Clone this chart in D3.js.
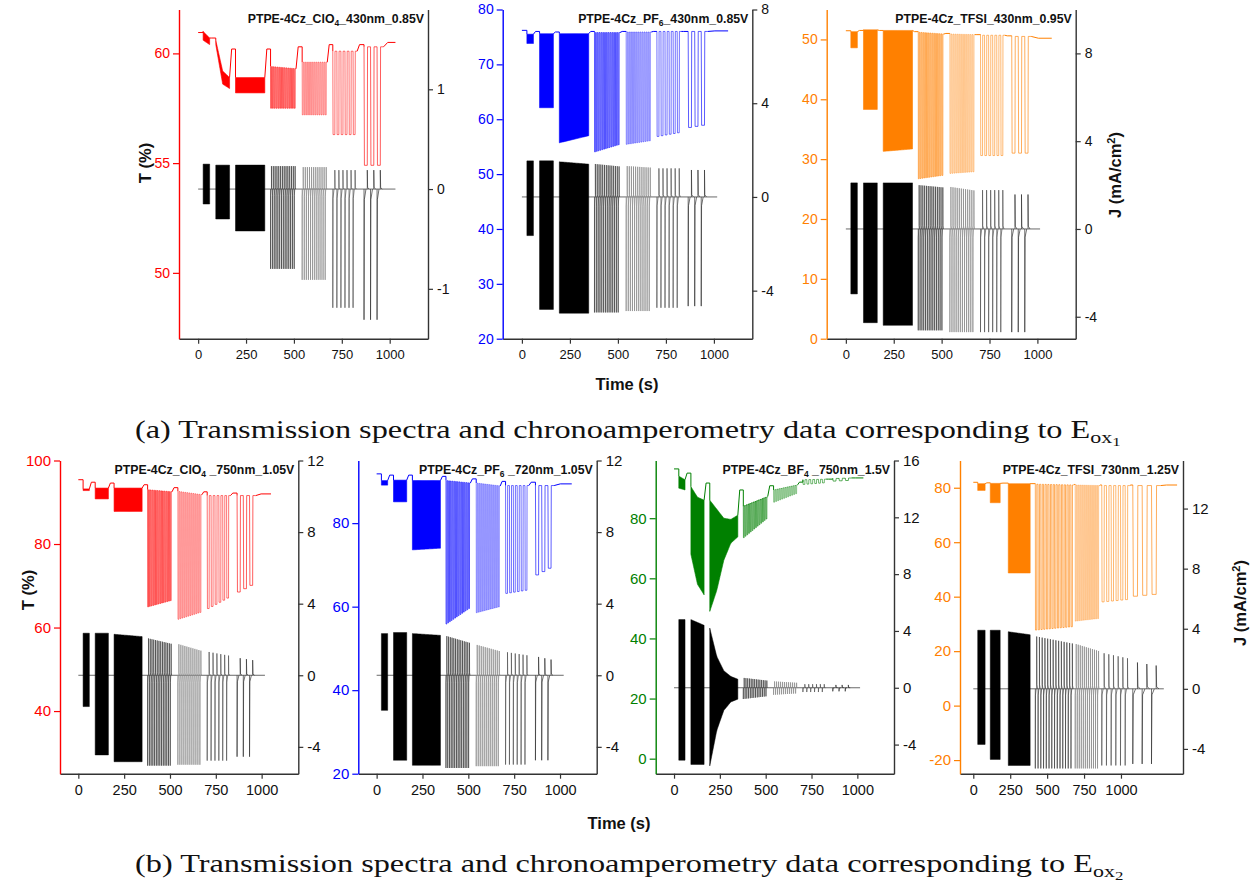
<!DOCTYPE html>
<html>
<head>
<meta charset="utf-8">
<script src="https://cdn.jsdelivr.net/npm/d3@7"></script>
<style>
  body { margin: 0; background: #fff; }
  svg { display: block; font-family: "Liberation Sans", Arial, sans-serif; }
</style>
</head>
<body>
<svg id="fig" width="1255" height="886"></svg>
<script>
// switching protocol (s): the same for most runs
var blockStart = [26, 92, 195, 378, 543, 703, 866];
var blockEnd = [60, 164, 348, 511, 674, 830, 968];
var blockPulses = [0, 0, 0, 14, 12, 6, 3];   // 0 = dense switching, drawn as a band
// the TFSI 730 nm run was recorded on a longer time base
var tfsibStart = [30, 115, 237, 420, 690, 870, 1080];
var tfsibEnd = [80, 182, 385, 680, 855, 1060, 1270];

var xMajor = [0, 250, 500, 750, 1000];
var xMinor = [125, 375, 625, 875, 1125, 1375];

// T (%) envelopes per block: [start, ..., end]
// gap = resting level before block 1, between blocks and after block 7
var clo4aTop = [[61.0, 60.7], [60.6, 59.2, 58.9], [58.9, 58.9], [59.4, 59.3], [59.6, 59.6], [60.1, 60.1], [60.3, 60.3]];
var clo4aBot = [[60.6, 60.4], [60.4, 58.6, 58.4], [58.2, 58.2], [57.5, 57.5], [57.2, 57.2], [56.3, 56.3], [54.9, 54.9]];
var clo4aGap = [60.95, 60.7, 60.2, 60.2, 60.3, 60.4, 60.4, 60.5];
var clo4aJTop = [[0.25], [0.24], [0.24], [0.23], [0.22], [0.19], [0.19]];
var clo4aJBot = [[-0.15], [-0.3], [-0.42], [-0.8], [-0.91], [-1.19], [-1.31]];

var pf6aTop = [[75.5], [75.6], [75.6], [75.8], [75.9], [76.0], [76.0]];
var pf6aBot = [[73.8], [62.1], [55.7, 57.0], [54.0, 55.4], [55.4, 56.1], [56.8, 57.6], [58.4, 59.0]];
var pf6aGap = [76.2, 76.0, 75.9, 76.0, 76.0, 76.0, 76.0, 76.1];
var pf6aJTop = [[1.54], [1.54], [1.5, 1.4], [1.41, 1.3], [1.32, 1.25], [1.22], [1.15]];
var pf6aJBot = [[-1.65], [-4.8], [-4.96], [-4.93], [-4.87], [-4.73], [-4.66]];

var tfsiaTop = [[51.3], [51.6], [51.5], [51.2, 50.9], [50.9, 50.8], [50.7], [50.5]];
var tfsiaBot = [[48.6], [38.3], [31.3, 31.7], [26.7, 27.3], [27.6, 27.9], [30.6], [31.0]];
var tfsiaGap = [51.45, 51.5, 51.5, 51.3, 51.0, 50.8, 50.6, 50.2];
var tfsiaJTop = [[2.1], [2.1], [2.1], [2.0, 1.89], [1.92, 1.75], [1.77], [1.57]];
var tfsiaJBot = [[-2.96], [-4.27], [-4.39], [-4.62], [-4.7], [-4.7], [-4.7]];

var clo4bTop = [[93.2], [93.4], [93.4], [93.0, 92.5], [92.6, 91.8], [91.6], [91.6]];
var clo4bBot = [[92.8], [90.8], [87.8], [64.9, 66.5], [61.9, 63.7], [64.3, 67.3], [68.1, 70.5]];
var clo4bGap = [95.4, 94.8, 94.6, 94.2, 93.5, 92.5, 92.2, 92.0];
var clo4bJTop = [[2.35], [2.35], [2.29, 2.16], [2.07, 1.75], [1.75, 1.36], [1.32, 1.08], [0.98, 0.82]];
var clo4bJBot = [[-1.75], [-4.45], [-4.83], [-5.05], [-5.0], [-4.77], [-4.55]];

var pf6bTop = [[90.2], [90.3], [90.2], [90.2, 89.6], [89.6, 88.9], [89.0], [89.0]];
var pf6bBot = [[89.1], [85.1], [73.6, 74.0], [55.7, 59.7], [58.5, 60.0], [63.1, 64.0], [67.2, 69.6]];
var pf6bGap = [91.8, 91.5, 91.5, 91.2, 90.6, 90.0, 89.8, 89.4];
var pf6bJTop = [[2.33], [2.39], [2.33, 2.23], [2.2, 1.8], [1.71, 1.34], [1.3, 1.1], [1.06, 0.84]];
var pf6bJBot = [[-1.96], [-4.75], [-5.03], [-5.18], [-5.08], [-4.99], [-4.75]];

var bf4bTop = [[94.0, 92.8], [90.5, 87.0, 86.0], [86.0, 83.0, 80.0, 79.6, 81.0], [84.0, 87.2], [89.4, 91.1], [92.8, 93.0], [93.2, 93.4]];
var bf4bBot = [[90.0, 89.4], [68.0, 58.0, 54.5], [49.0, 56.0, 66.0, 71.7, 73.8], [73.3, 80.0], [85.2, 88.3], [91.2, 91.8], [92.3, 92.6]];
var bf4bGap = [96.4, 95.0, 91.7, 89.4, 90.8, 92.0, 93.0, 93.4];
var bf4bJTop = [[4.8], [4.8, 4.4], [4.2, 2.2, 1.2, 0.8, 0.6], [0.7, 0.5], [0.45, 0.35], [0.25], [0.2]];
var bf4bJBot = [[-5.1], [-5.4], [-5.5, -3.0, -1.6, -1.0, -0.8], [-0.8, -0.6], [-0.5, -0.4], [-0.3], [-0.25]];

var tfsibTop = [[81.5], [81.6], [81.5], [81.3, 81.0], [81.0, 80.8], [80.8], [80.8]];
var tfsibBot = [[79.0], [74.5], [48.7], [27.7, 29.0], [31.0, 32.0], [38.0, 39.0], [40.0, 41.0]];
var tfsibGap = [82.0, 81.8, 81.7, 81.5, 81.2, 81.0, 81.0, 81.0];
var tfsibJTop = [[3.9], [3.9], [3.8, 3.6], [3.5, 3.0], [3.0, 2.5], [2.4, 2.0], [1.8, 1.5]];
var tfsibJBot = [[-3.7], [-4.7], [-5.1], [-5.3], [-5.3], [-5.1], [-5.0]];

// how each block is shaded
var tBlockOpacity = [1, 1, 1, 0.85, 0.6, 0.75, 0.85];
var jBlockColor = ["#000", "#000", "#000", "#444", "#8a8a8a", "#555", "#333"];

var svg = d3.select("#fig");

var panels = [
  {title: ["PTPE-4Cz_ClO", "4", "_430nm_0.85V"], color: "#ff0000", x0: 179, x1: 428, y0: 9.5, y1: 338.7,
   xDom: [-100, 1200], tDom: [47, 62], tMaj: [50, 55, 60], tMin: [47.5, 52.5, 57.5],
   jDom: [-1.5, 1.8], jMaj: [-1, 0, 1], jMin: [-0.5, 0.5, 1.5], fs: 14, xfs: 13,
   top: clo4aTop, bot: clo4aBot, gap: clo4aGap, jTop: clo4aJTop, jBot: clo4aJBot, tEnd: 1030, jEnd: 1030},
  {title: ["PTPE-4Cz_PF", "6", "_430nm_0.85V"], color: "#0000ff", x0: 502.7, x1: 752.3, y0: 9.5, y1: 338.7,
   xDom: [-100, 1200], tDom: [20, 80], tMaj: [20, 30, 40, 50, 60, 70, 80], tMin: [25, 35, 45, 55, 65, 75],
   jDom: [-6.05, 8], jMaj: [-4, 0, 4, 8], jMin: [-6, -2, 2, 6], fs: 14, xfs: 13,
   top: pf6aTop, bot: pf6aBot, gap: pf6aGap, jTop: pf6aJTop, jBot: pf6aJBot, tEnd: 1074, jEnd: 1017},
  {title: ["PTPE-4Cz_TFSI_430nm_0.95V", "", ""], color: "#ff8000", x0: 826.7, x1: 1075.7, y0: 9.5, y1: 338.7,
   xDom: [-100, 1200], tDom: [0, 55], tMaj: [0, 10, 20, 30, 40, 50], tMin: [5, 15, 25, 35, 45],
   jDom: [-5, 10], jMaj: [-4, 0, 4, 8], jMin: [-2, 2, 6], fs: 14, xfs: 13,
   top: tfsiaTop, bot: tfsiaBot, gap: tfsiaGap, jTop: tfsiaJTop, jBot: tfsiaJBot, tEnd: 1075, jEnd: 1014},
  {title: ["PTPE-4Cz_ClO", "4", " _750nm_1.05V"], color: "#ff0000", x0: 60, x1: 298.3, y0: 460.5, y1: 773.7,
   xDom: [-100, 1200], tDom: [25, 100], tMaj: [40, 60, 80, 100], tMin: [30, 50, 70, 90],
   jDom: [-5.5, 12], jMaj: [-4, 0, 4, 8, 12], jMin: [-2, 2, 6, 10], fs: 15, xfs: 14.5,
   top: clo4bTop, bot: clo4bBot, gap: clo4bGap, jTop: clo4bJTop, jBot: clo4bJBot, tEnd: 1051, jEnd: 1018},
  {title: ["PTPE-4Cz_PF", "6", " _720nm_1.05V"], color: "#0000ff", x0: 358.3, x1: 596.7, y0: 460.5, y1: 773.7,
   xDom: [-100, 1200], tDom: [20, 95], tMaj: [20, 40, 60, 80], tMin: [30, 50, 70, 90],
   jDom: [-5.5, 12], jMaj: [-4, 0, 4, 8, 12], jMin: [-2, 2, 6, 10], fs: 15, xfs: 14.5,
   top: pf6bTop, bot: pf6bBot, gap: pf6bGap, jTop: pf6bJTop, jBot: pf6bJBot, tEnd: 1064, jEnd: 1020},
  {title: ["PTPE-4Cz_BF", "4", " _750nm_1.5V"], color: "#008000", x0: 655.7, x1: 894, y0: 460.5, y1: 773.7,
   xDom: [-100, 1200], tDom: [-5, 99.2], tMaj: [0, 20, 40, 60, 80], tMin: [10, 30, 50, 70, 90],
   jDom: [-6.05, 16], jMaj: [-4, 0, 4, 8, 12, 16], jMin: [-2, 2, 6, 10, 14], fs: 15, xfs: 14.5,
   top: bf4bTop, bot: bf4bBot, gap: bf4bGap, jTop: bf4bJTop, jBot: bf4bJBot, tEnd: 1033, jEnd: 1015},
  {title: ["PTPE-4Cz_TFSI_730nm_1.25V", "", ""], color: "#ff8000", x0: 960, x1: 1183, y0: 460.5, y1: 773.7,
   xDom: [-90, 1420], tDom: [-25, 90], tMaj: [-20, 0, 20, 40, 60, 80], tMin: [-10, 10, 30, 50, 70],
   jDom: [-5.65, 15.2], jMaj: [-4, 0, 4, 8, 12], jMin: [-2, 2, 6, 10, 14], fs: 15, xfs: 14.5,
   start: tfsibStart, end: tfsibEnd,
   top: tfsibTop, bot: tfsibBot, gap: tfsibGap, jTop: tfsibJTop, jBot: tfsibJBot, tEnd: 1380, jEnd: 1290}
];

// value of an envelope at fraction f of its block
function env(arr, f) {
  if (arr.length == 1) return arr[0];
  var u = f * (arr.length - 1);
  var i = Math.min(Math.floor(u), arr.length - 2);
  return arr[i] + (arr[i + 1] - arr[i]) * (u - i);
}

function styleAxis(g, stroke, textFill, fs) {
  g.selectAll(".domain").attr("stroke", stroke).attr("stroke-width", 1.4);
  g.selectAll(".tick line").attr("stroke", stroke).attr("stroke-width", 1.2);
  g.selectAll(".tick text").attr("fill", textFill)
    .attr("font-size", fs).attr("font-family", "'Liberation Sans', Arial, sans-serif");
}

function drawPanel(p) {
  var x = d3.scaleLinear().domain(p.xDom).range([p.x0, p.x1]);
  var yT = d3.scaleLinear().domain(p.tDom).range([p.y1, p.y0]);
  var yJ = d3.scaleLinear().domain(p.jDom).range([p.y1, p.y0]);
  var line = d3.line().x(function(d) { return x(d[0]); });
  var bs = p.start || blockStart, be = p.end || blockEnd;
  var n = bs.length;

  // current density (black)
  var gJ = svg.append("g");
  gJ.append("path")
    .attr("d", line.y(function(d) { return yJ(d[1]); })([[0, 0], [p.jEnd, 0]]))
    .attr("fill", "none").attr("stroke", "#444").attr("stroke-width", 0.8);
  for (var k = 0; k < n; k++) {
    var s = bs[k], e = be[k];
    if (blockPulses[k] == 0) {
      var poly = [];
      for (var j = 0; j <= 30; j++) poly.push([s + (e - s) * j / 30, env(p.jTop[k], j / 30)]);
      for (j = 30; j >= 0; j--) poly.push([s + (e - s) * j / 30, env(p.jBot[k], j / 30)]);
      gJ.append("path").attr("d", line.y(function(d) { return yJ(d[1]); })(poly) + "Z")
        .attr("fill", jBlockColor[k]).attr("stroke", jBlockColor[k]).attr("stroke-width", 0.5);
    } else {
      var per = (e - s) / blockPulses[k];
      var d = "";
      for (var i = 0; i < blockPulses[k]; i++) {
        var ts = s + i * per, f = (i + 0.5) / blockPulses[k];
        var lo = env(p.jBot[k], f), hi = env(p.jTop[k], f);
        d += "M" + x(ts) + "," + yJ(0) + "L" + x(ts) + "," + yJ(lo) +
             "L" + x(ts + 0.05 * per) + "," + yJ(lo * 0.08) + "L" + x(ts + 0.3 * per) + "," + yJ(0);
        var tu = ts + 0.5 * per;
        d += "M" + x(tu) + "," + yJ(0) + "L" + x(tu) + "," + yJ(hi) +
             "L" + x(tu + 0.05 * per) + "," + yJ(hi * 0.08) + "L" + x(tu + 0.3 * per) + "," + yJ(0);
      }
      gJ.append("path").attr("d", d).attr("fill", "none")
        .attr("stroke", jBlockColor[k]).attr("stroke-width", 0.7);
    }
  }

  // transmittance (coloured)
  var gT = svg.append("g");
  var lineT = d3.line().x(function(d) { return x(d[0]); }).y(function(d) { return yT(d[1]); });
  for (k = 0; k <= n; k++) {
    var a = k == 0 ? 0 : be[k - 1];
    var b = k == n ? p.tEnd : bs[k];
    var pts = [];
    if (k > 0) {
      pts.push([a, env(p.top[k - 1], 1)]);
      pts.push([a + (b - a) * 0.35, p.gap[k]]);
    } else pts.push([a, p.gap[0]]);
    pts.push([b, p.gap[k]]);
    if (k < n) pts.push([b, env(p.top[k], 0)]);
    gT.append("path").attr("d", lineT(pts)).attr("fill", "none")
      .attr("stroke", p.color).attr("stroke-width", 1);
  }
  for (k = 0; k < n; k++) {
    s = bs[k]; e = be[k];
    if (blockPulses[k] == 0) {
      poly = [];
      for (j = 0; j <= 30; j++) poly.push([s + (e - s) * j / 30, env(p.top[k], j / 30)]);
      for (j = 30; j >= 0; j--) poly.push([s + (e - s) * j / 30, env(p.bot[k], j / 30)]);
      gT.append("path").attr("d", lineT(poly) + "Z")
        .attr("fill", p.color).attr("stroke", p.color).attr("stroke-width", 0.6)
        .attr("opacity", tBlockOpacity[k]);
    } else {
      per = (e - s) / blockPulses[k];
      pts = [];
      for (i = 0; i < blockPulses[k]; i++) {
        ts = s + i * per; f = (i + 0.5) / blockPulses[k];
        hi = env(p.top[k], f); lo = env(p.bot[k], f);
        pts.push([ts, hi], [ts + 0.06 * per, lo], [ts + 0.5 * per, lo],
                 [ts + 0.54 * per, hi], [ts + per, hi]);
      }
      gT.append("path").attr("d", lineT(pts)).attr("fill", "none")
        .attr("stroke", p.color).attr("stroke-width", 0.75).attr("opacity", tBlockOpacity[k]);
    }
  }

  // axes
  var gx = svg.append("g").attr("transform", "translate(0," + p.y1 + ")");
  gx.call(d3.axisBottom(x).tickValues(xMinor.filter(function(v) { return v < p.xDom[1]; }))
    .tickFormat("").tickSize(5).tickSizeOuter(0));
  gx.call(d3.axisBottom(x).tickValues(xMajor).tickFormat(function(v) { return String(v); })
    .tickSize(5).tickSizeOuter(0).tickPadding(6));
  styleAxis(gx, "#333", "#111", p.xfs);

  var gl = svg.append("g").attr("transform", "translate(" + p.x0 + ",0)");
  gl.call(d3.axisLeft(yT).tickValues(p.tMin).tickFormat("").tickSize(3.5).tickSizeOuter(0));
  gl.call(d3.axisLeft(yT).tickValues(p.tMaj).tickFormat(function(v) { return String(v); })
    .tickSize(6).tickSizeOuter(0).tickPadding(3));
  styleAxis(gl, p.color, p.color, p.fs);

  var gr = svg.append("g").attr("transform", "translate(" + p.x1 + ",0)");
  gr.call(d3.axisRight(yJ).tickValues(p.jMin).tickFormat("").tickSize(5).tickSizeOuter(0));
  gr.call(d3.axisRight(yJ).tickValues(p.jMaj).tickFormat(function(v) { return String(v); })
    .tickSize(5).tickSizeOuter(0).tickPadding(4));
  styleAxis(gr, "#333", "#111", p.fs);

  // run name
  var tt = svg.append("text").attr("x", p.x1 - 4).attr("y", p.y0 + 13)
    .attr("text-anchor", "end").attr("font-weight", "bold").attr("font-size", 12.3).attr("fill", "#111");
  tt.append("tspan").text(p.title[0]);
  if (p.title[1]) {
    tt.append("tspan").attr("font-size", 8.5).attr("dy", 3).text(p.title[1]);
    tt.append("tspan").attr("dy", -3).text(p.title[2]);
  }
}

panels.forEach(drawPanel);

// axis titles
function vlabel(x, y, withSup, txt) {
  var t = svg.append("text").attr("transform", "translate(" + x + "," + y + ") rotate(-90)")
    .attr("text-anchor", "middle").attr("font-weight", "bold").attr("font-size", 16.5).attr("fill", "#111");
  t.append("tspan").text(txt);
  if (withSup) {
    t.append("tspan").attr("font-size", 11).attr("dy", -6).text("2");
    t.append("tspan").attr("dy", 6).text(")");
  }
}
vlabel(151, 163, false, "T (%)");
vlabel(34, 590, false, "T (%)");
vlabel(1121, 175, true, "J (mA/cm");
vlabel(1246, 603, true, "J (mA/cm");

svg.append("text").attr("x", 627).attr("y", 390).attr("text-anchor", "middle")
  .attr("font-weight", "bold").attr("font-size", 16.5).attr("fill", "#111").text("Time (s)");
svg.append("text").attr("x", 619).attr("y", 829).attr("text-anchor", "middle")
  .attr("font-weight", "bold").attr("font-size", 16.5).attr("fill", "#111").text("Time (s)");

// sub-captions
function caption(letter, sub, y, x0, x1) {
  var t = svg.append("text").attr("x", 0).attr("y", 0)
    .attr("font-family", "'Liberation Serif', 'Times New Roman', serif").attr("font-size", 25).attr("fill", "#111");
  t.append("tspan").text("(" + letter + ") Transmission spectra and chronoamperometry data corresponding to E");
  t.append("tspan").attr("font-size", 17).attr("dy", 5).text("ox");
  t.append("tspan").attr("font-size", 13).attr("dy", 3).text(sub);
  var w = t.node().getBBox().width;
  t.attr("transform", "translate(" + x0 + "," + y + ") scale(" + ((x1 - x0) / w) + ",1)");
}
caption("a", "1", 438, 135, 1121);
caption("b", "2", 872, 135, 1124);
</script>
</body>
</html>
